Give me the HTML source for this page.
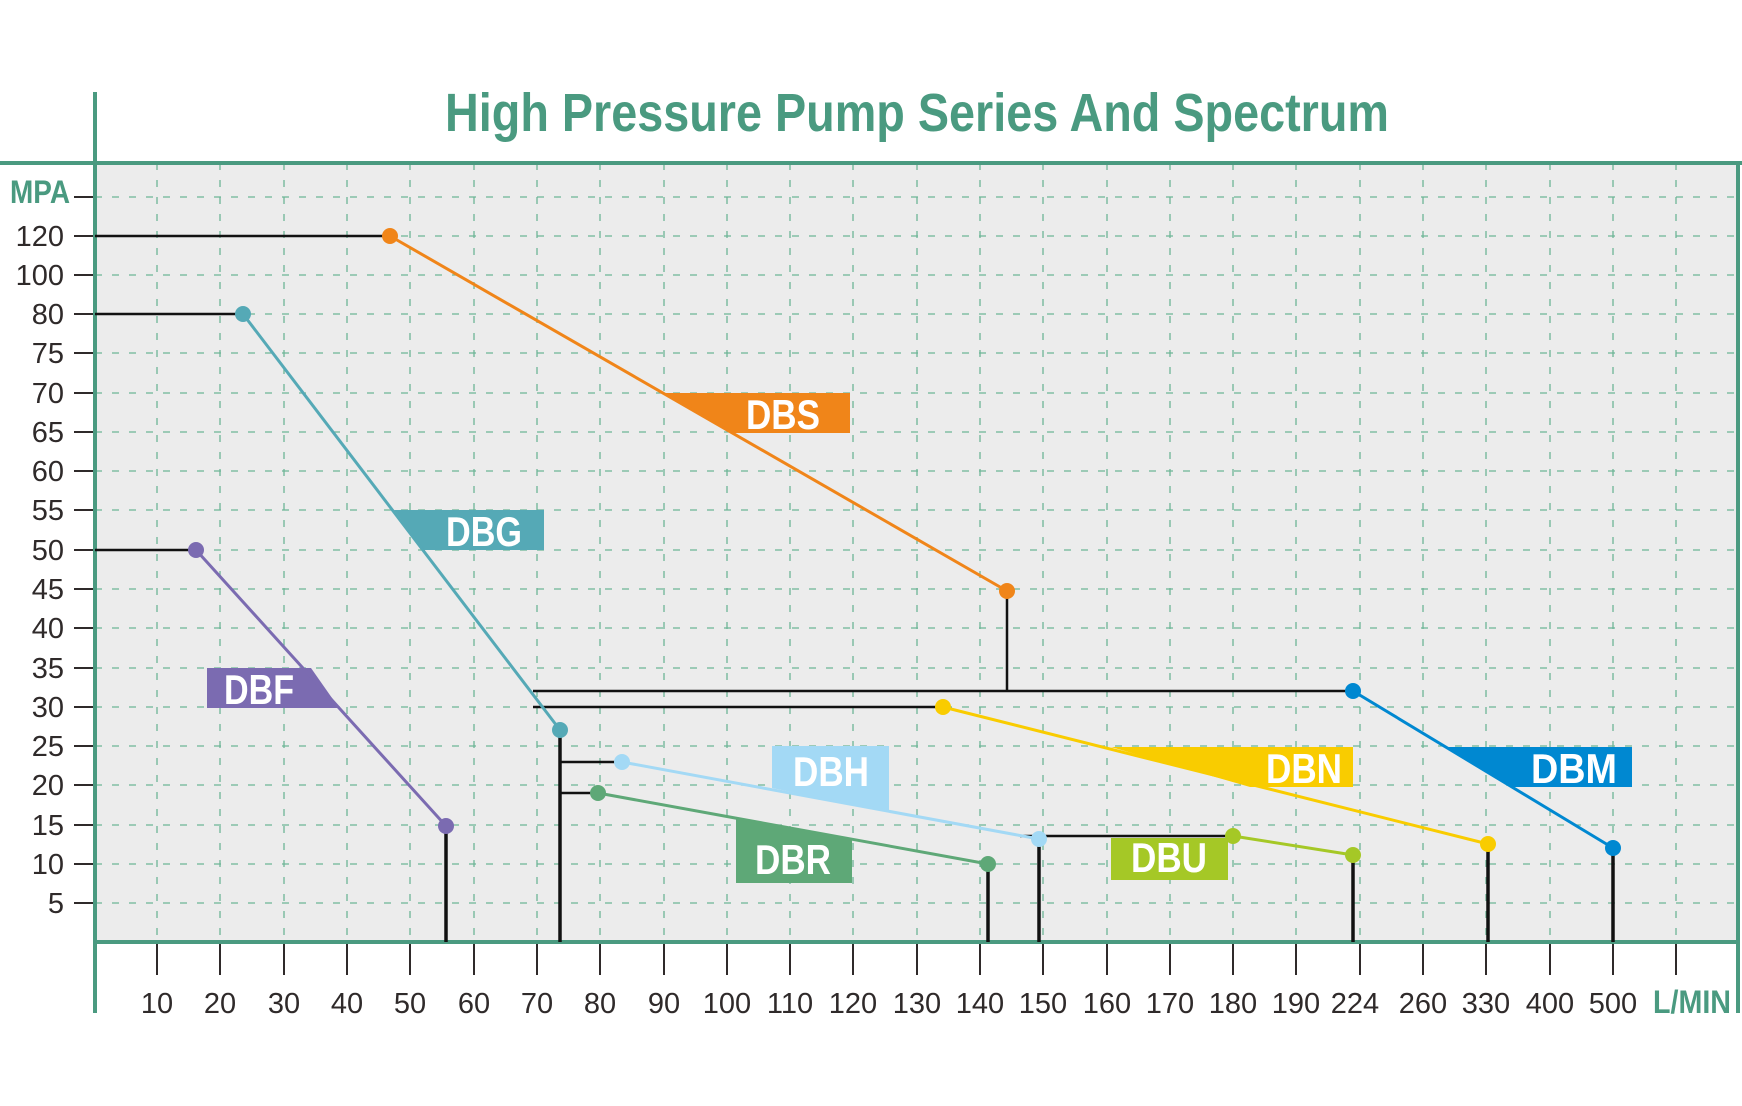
<!DOCTYPE html>
<html><head><meta charset="utf-8"><style>
html,body{margin:0;padding:0;background:#fff;}
svg{display:block;}
.t{font-family:"Liberation Sans Narrow","Liberation Sans",sans-serif;fill:#2f2a2a;font-size:29px;}
.lb{font-family:"Liberation Sans Narrow","Liberation Sans",sans-serif;font-weight:bold;fill:#fff;font-size:42px;}
</style></head><body>
<svg width="1742" height="1106" viewBox="0 0 1742 1106" xmlns="http://www.w3.org/2000/svg">
<rect x="95" y="163" width="1643" height="779" fill="#ececec"/>
<g stroke="#6db596" stroke-width="1.3" stroke-dasharray="7 10" fill="none">
<path d="M95 197H1738M95 236H1738M95 275H1738M95 314H1738M95 353H1738M95 393H1738M95 432H1738M95 471H1738M95 510H1738M95 550H1738M95 589H1738M95 628H1738M95 668H1738M95 707H1738M95 746H1738M95 785H1738M95 825H1738M95 864H1738M95 903H1738"/>
<path d="M157 163V942M220 163V942M284 163V942M347 163V942M410 163V942M474 163V942M537 163V942M600 163V942M664 163V942M727 163V942M790 163V942M853 163V942M917 163V942M980 163V942M1043 163V942M1107 163V942M1170 163V942M1233 163V942M1296 163V942M1360 163V942M1423 163V942M1486 163V942M1550 163V942M1613 163V942M1676 163V942"/>
</g>
<g stroke="#2f2a2a" stroke-width="2"><path d="M74 197H95M74 236H95M74 275H95M74 314H95M74 353H95M74 393H95M74 432H95M74 471H95M74 510H95M74 550H95M74 589H95M74 628H95M74 668H95M74 707H95M74 746H95M74 785H95M74 825H95M74 864H95M74 903H95"/>
<path d="M157 942V975M220 942V975M284 942V975M347 942V975M410 942V975M474 942V975M537 942V975M600 942V975M664 942V975M727 942V975M790 942V975M853 942V975M917 942V975M980 942V975M1043 942V975M1107 942V975M1170 942V975M1233 942V975M1296 942V975M1360 942V975M1423 942V975M1486 942V975M1550 942V975M1613 942V975M1676 942V975"/></g>
<g class="t" text-anchor="end">
<text x="64" y="246">120</text><text x="64" y="285">100</text><text x="64" y="324">80</text><text x="64" y="363">75</text><text x="64" y="403">70</text><text x="64" y="442">65</text><text x="64" y="481">60</text><text x="64" y="520">55</text><text x="64" y="560">50</text><text x="64" y="599">45</text><text x="64" y="638">40</text><text x="64" y="678">35</text><text x="64" y="717">30</text><text x="64" y="756">25</text><text x="64" y="795">20</text><text x="64" y="835">15</text><text x="64" y="874">10</text><text x="64" y="913">5</text>
</g>
<g class="t" text-anchor="middle">
<text x="157" y="1013">10</text><text x="220" y="1013">20</text><text x="284" y="1013">30</text><text x="347" y="1013">40</text><text x="410" y="1013">50</text><text x="474" y="1013">60</text><text x="537" y="1013">70</text><text x="600" y="1013">80</text><text x="664" y="1013">90</text><text x="727" y="1013">100</text><text x="790" y="1013">110</text><text x="853" y="1013">120</text><text x="917" y="1013">130</text><text x="980" y="1013">140</text><text x="1043" y="1013">150</text><text x="1107" y="1013">160</text><text x="1170" y="1013">170</text><text x="1233" y="1013">180</text><text x="1296" y="1013">190</text><text x="1355" y="1013">224</text><text x="1423" y="1013">260</text><text x="1486" y="1013">330</text><text x="1550" y="1013">400</text><text x="1613" y="1013">500</text>
</g>
<text x="1692" y="1013" text-anchor="middle" font-family="Liberation Sans Narrow, Liberation Sans, sans-serif" font-weight="bold" font-size="32" fill="#4a9a80" textLength="78" lengthAdjust="spacingAndGlyphs">L/MIN</text>
<text x="40" y="203" text-anchor="middle" font-family="Liberation Sans Narrow, Liberation Sans, sans-serif" font-weight="bold" font-size="32" fill="#4a9a80" textLength="60" lengthAdjust="spacingAndGlyphs">MPA</text>
<text x="917" y="131" text-anchor="middle" font-family="Liberation Sans Narrow, Liberation Sans, sans-serif" font-weight="bold" font-size="54" fill="#4a9a80" textLength="944" lengthAdjust="spacingAndGlyphs">High Pressure Pump Series And Spectrum</text>
<g stroke="#4a9a80" stroke-width="4" fill="none">
<path d="M0 163H1742"/><path d="M95 92V1013"/><path d="M95 942H1738"/><path d="M1738 163V1013"/>
</g>
<polygon points="661,393 850,393 850,433 730,433" fill="#f08519"/>
<text class="lb" x="783" y="429" text-anchor="middle" textLength="74" lengthAdjust="spacingAndGlyphs">DBS</text>
<polygon points="394,510 544,510 544,550 424,550" fill="#55a9b6"/>
<text class="lb" x="484" y="546" text-anchor="middle" textLength="76" lengthAdjust="spacingAndGlyphs">DBG</text>
<polygon points="207,668 311,668 339,708 207,708" fill="#7b6bb1"/>
<text class="lb" x="259" y="704" text-anchor="middle" textLength="70" lengthAdjust="spacingAndGlyphs">DBF</text>
<polygon points="772,746 889,746 889,812 772,788" fill="#a3d9f5"/>
<text class="lb" x="831" y="786" text-anchor="middle" textLength="76" lengthAdjust="spacingAndGlyphs">DBH</text>
<polygon points="736,817 852,839 852,883 736,883" fill="#5ea877"/>
<text class="lb" x="793" y="874" text-anchor="middle" textLength="76" lengthAdjust="spacingAndGlyphs">DBR</text>
<polygon points="1111,747 1353,747 1353,787 1250,787" fill="#f9cc00"/>
<text class="lb" x="1304" y="783" text-anchor="middle" textLength="76" lengthAdjust="spacingAndGlyphs">DBN</text>
<polygon points="1444,747 1632,747 1632,787 1511,787" fill="#0088d1"/>
<text class="lb" x="1574" y="783" text-anchor="middle" textLength="86" lengthAdjust="spacingAndGlyphs">DBM</text>
<rect x="1111" y="838" width="117" height="42" fill="#a5c826"/>
<text class="lb" x="1169" y="872" text-anchor="middle" textLength="76" lengthAdjust="spacingAndGlyphs">DBU</text>
<g stroke="#111" stroke-width="2.5" fill="none">
<path d="M95 236H390M95 314H243M95 550H196"/>
<path d="M1007 591V691M533 691H1353M533 707H943"/>
<path d="M560 730V942M561 762H622M561 793H598"/>
<path d="M1020 836H1233"/>
</g>
<g stroke="#111" stroke-width="3.5" fill="none">
<path d="M446 826V942M560 730V942M988 864V942M1039 839V942M1353 855V942M1488 844V942M1613 848V942"/>
</g>
<g stroke-width="3" fill="none">
<path d="M390 236L1007 591" stroke="#f08519"/>
<path d="M243 314L560 730" stroke="#55a9b6"/>
<path d="M196 550L446 826" stroke="#7b6bb1"/>
<path d="M1353 691L1613 848" stroke="#0088d1"/>
<path d="M943 707L1488 844" stroke="#f9cc00"/>
<path d="M622 762L1039 839" stroke="#a3d9f5"/>
<path d="M598 793L988 864" stroke="#5ea877"/>
<path d="M1233 836L1353 855" stroke="#a5c826"/>
</g>
<g>
<circle cx="390" cy="236" r="8" fill="#f08519"/><circle cx="1007" cy="591" r="8" fill="#f08519"/>
<circle cx="243" cy="314" r="8" fill="#55a9b6"/><circle cx="560" cy="730" r="8" fill="#55a9b6"/>
<circle cx="196" cy="550" r="8" fill="#7b6bb1"/><circle cx="446" cy="826" r="8" fill="#7b6bb1"/>
<circle cx="1353" cy="691" r="8" fill="#0088d1"/><circle cx="1613" cy="848" r="8" fill="#0088d1"/>
<circle cx="943" cy="707" r="8" fill="#f9cc00"/><circle cx="1488" cy="844" r="8" fill="#f9cc00"/>
<circle cx="622" cy="762" r="8" fill="#a3d9f5"/><circle cx="1039" cy="839" r="8" fill="#a3d9f5"/>
<circle cx="598" cy="793" r="8" fill="#5ea877"/><circle cx="988" cy="864" r="8" fill="#5ea877"/>
<circle cx="1233" cy="836" r="8" fill="#a5c826"/><circle cx="1353" cy="855" r="8" fill="#a5c826"/>
</g>
</svg>
</body></html>
